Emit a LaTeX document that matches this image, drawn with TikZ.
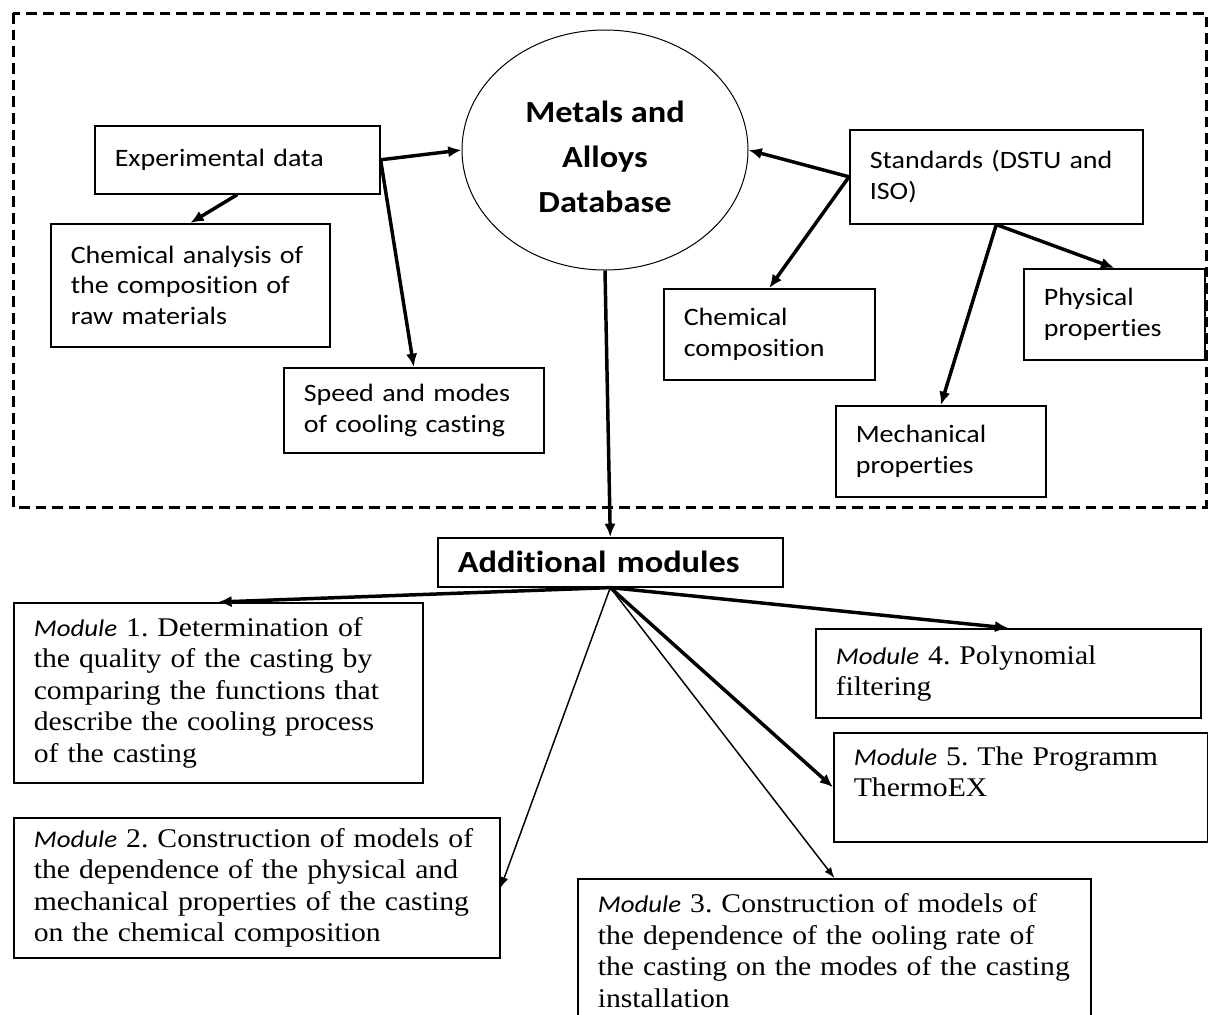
\documentclass[tikz,border=0pt]{standalone}
\usepackage{fontspec}
\setmainfont{Liberation Serif}[FakeStretch=1.1]
\newfontfamily\sansf{Carlito}[FakeStretch=1.12,Ligatures=NoCommon]
\usetikzlibrary{arrows.meta,shapes.geometric}
\frenchspacing
\hyphenpenalty=10000
\tikzset{every picture/.style={line width=0.75pt}}
\tikzset{
  box/.style={draw, line width=1.2pt, anchor=north west, align=left, inner xsep=15pt, inner ysep=2pt},
  toptext/.style={font=\sansf\fontsize{18.75}{23}\selectfont},
  modtext/.style={font=\fontsize{20.25}{23.6}\selectfont},
  headtext/.style={font=\sansf\bfseries\fontsize{23}{33.75}\selectfont},
  arr/.style={-{Latex[length=10pt,width=8.5pt]}, line width=2.6pt},
  thinarr/.style={-{Latex[length=8pt,width=6pt]}, line width=1.1pt}
}
\newcommand{\mdl}{{\sansf\itshape\fontsize{18}{23.6}\selectfont Module}}

\begin{document}
\begin{tikzpicture}[x=0.75pt,y=0.75pt,yscale=-1,xscale=1]
\useasboundingbox (0,0) rectangle (1208,1015);

%Shape: Dashed frame
\draw [line width=2.25pt, dash pattern={on 8pt off 4.5pt}] (13,13) rectangle (1206,507);

%Shape: Ellipse
\node (db) [ellipse, draw, line width=0.75pt, minimum width=214.5pt, minimum height=180pt, headtext] at (605,150) {\raisebox{-6pt}[\height][\depth]{\begin{tabular}{@{}c@{}}Metals and\\Alloys\\Database\end{tabular}}};

% Upper boxes
\node (exp) [box, toptext, text width=183.75pt, minimum height=51pt] at (94,125) {Experimental data};
\node (chemanal) [box, toptext, text width=179.25pt, minimum height=92.25pt] at (50,223) {Chemical analysis of\\the composition of\\raw materials};
\node (speed) [box, toptext, text width=165pt, minimum height=63.75pt] at (283,367) {Speed and modes\\of cooling casting};
\node (std) [box, toptext, text width=189.75pt, minimum height=70.5pt] at (849,129) {Standards (DSTU and\\ISO)};
\node (chemcomp) [box, toptext, text width=128.25pt, minimum height=68.25pt] at (663,288) {Chemical\\composition};
\node (phys) [box, toptext, text width=105.75pt, minimum height=68.25pt] at (1023,268) {Physical\\properties};
\node (mech) [box, toptext, text width=127.5pt, minimum height=68.25pt] at (835,405) {Mechanical\\properties};

% Additional modules
\node (addmod) [box, headtext, text width=228.75pt, minimum height=36.75pt] at (437,537) {Additional modules};

% Module boxes
\node (mod1) [box, modtext, text width=276.75pt, minimum height=135pt] at (13,602) {\mdl{} 1. Determination of\\the quality of the casting by\\comparing the functions that\\describe the cooling process\\of the casting};
\node (mod2) [box, modtext, text width=334.5pt, minimum height=105pt] at (13,817) {\mdl{} 2. Construction of models of\\the dependence of the physical and\\mechanical properties of the casting\\on the chemical composition};
\node (mod4) [box, modtext, text width=258.75pt, minimum height=66.75pt] at (815,628) {\mdl{} 4. Polynomial\\filtering};
\node (mod5) [box, modtext, text width=250.5pt, minimum height=81.75pt] at (833,732) {\mdl{} 5. The Programm\\ThermoEX\\ \mbox{}};
\node (mod3) [box, modtext, text width=355pt, minimum height=108pt] at (577,878) {\mdl{} 3. Construction of models of\\the dependence of the ooling rate of\\the casting on the modes of the casting\\installation};

% Connectors
\draw [arr] (exp.east) -- (db.west);
\draw [arr] (exp.east) -- (speed.north);
\draw [arr] (exp.south) -- (chemanal.north);
\draw [arr] (std.west) -- (db.east);
\draw [arr] (std.west) -- (chemcomp.north);
\draw [arr] (std.south) -- (phys.north);
\draw [arr] (std.south) -- (mech.north);
\draw [arr] (db.south) -- (addmod.north);
\draw [arr] (addmod.south) -- (mod1.north);
\draw [thinarr] (addmod.south) -- (mod2.east);
\draw [thinarr] (addmod.south) -- (mod3.north);
\draw [arr] (addmod.south) -- (mod5.west);
\draw [arr] (addmod.south) -- (mod4.north);

\end{tikzpicture}
\end{document}
